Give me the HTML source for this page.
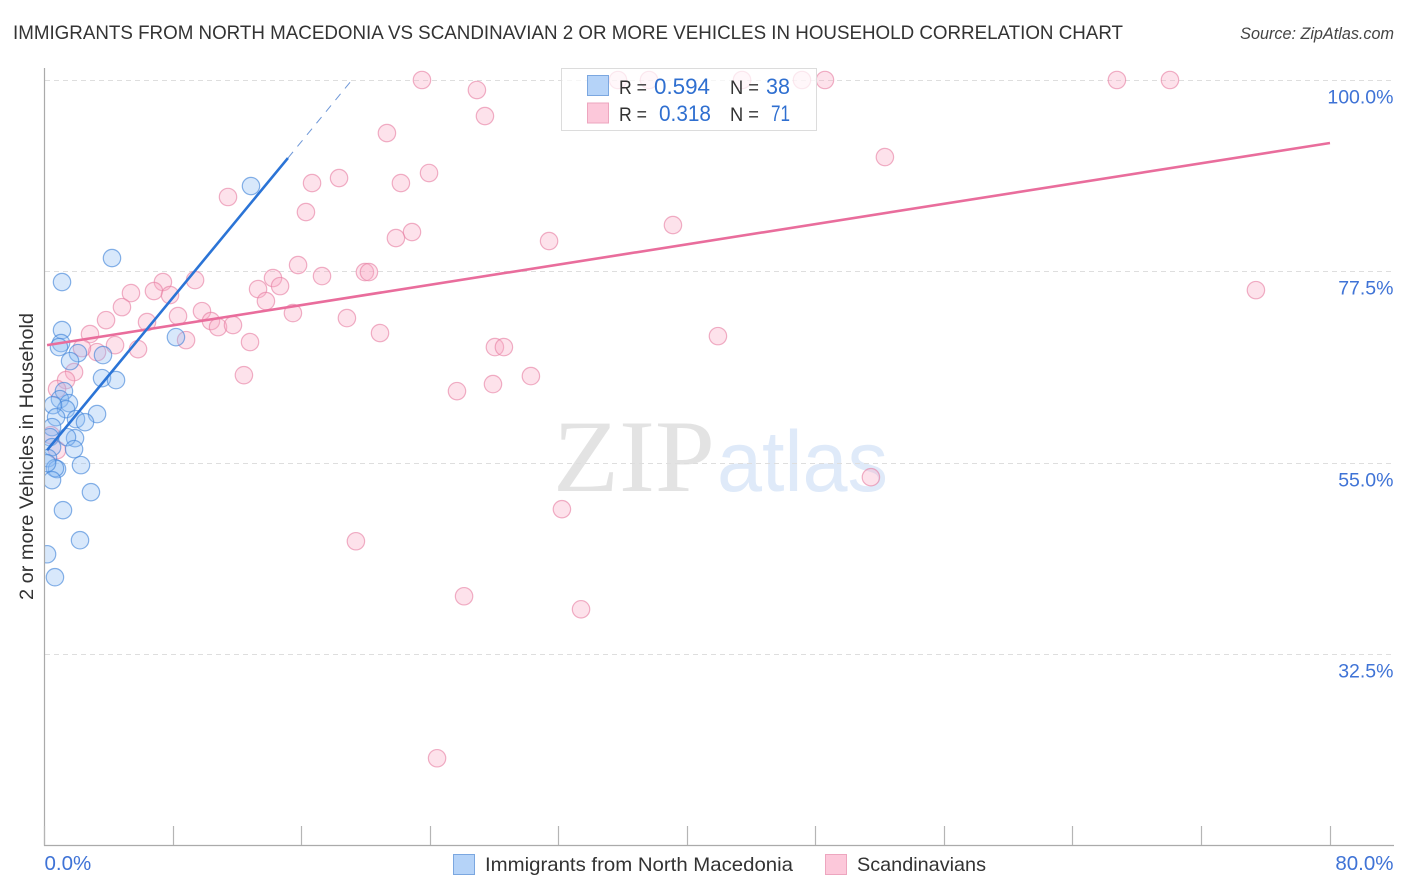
<!DOCTYPE html>
<html lang="en">
<head>
<meta charset="utf-8">
<title>Immigrants from North Macedonia vs Scandinavian correlation chart</title>
<style>
html,body{margin:0;padding:0;background:#fff;}
svg{display:block;font-family:"Liberation Sans",sans-serif;}
</style>
</head>
<body>
<svg id="chart" width="1406" height="892" viewBox="0 0 1406 892" xmlns="http://www.w3.org/2000/svg">
  <defs>
    <clipPath id="plot-clip"><rect x="45" y="60" width="1350" height="785"/></clipPath>
  </defs>
  <text x="13" y="39" font-size="19.5" fill="#333" textLength="1110" lengthAdjust="spacingAndGlyphs">IMMIGRANTS FROM NORTH MACEDONIA VS SCANDINAVIAN 2 OR MORE VEHICLES IN HOUSEHOLD CORRELATION CHART</text>
  <text x="1394" y="39" font-size="16.2" font-style="italic" fill="#444" text-anchor="end">Source: ZipAtlas.com</text>
  <g>
    <text x="553" y="491" font-family="'Liberation Serif',serif" font-size="103" fill="#e3e3e3" textLength="162" lengthAdjust="spacingAndGlyphs">ZIP</text>
    <text x="717" y="491" font-size="86" fill="#dfeaf9" textLength="171" lengthAdjust="spacingAndGlyphs">atlas</text>
  </g>
  <g id="grid"></g>
  <g id="marks" clip-path="url(#plot-clip)"></g>
  <g id="axes"></g>
  <text transform="translate(33,456.500) rotate(-90)" font-size="19.5" fill="#333" text-anchor="middle" textLength="287" lengthAdjust="spacingAndGlyphs">2 or more Vehicles in Household</text>

  <g>
    <rect x="561.500" y="68.500" width="255" height="62" fill="#fff" fill-opacity="0.72" stroke="#dcdcdc" stroke-width="1"/>
    <rect x="587.500" y="75.500" width="21" height="20" fill="#b5d3f8" stroke="#7ba7e0"/>
    <rect x="587.500" y="103" width="21" height="20" fill="#fcc8da" stroke="#eda6bf"/>
    <text x="619" y="94" font-size="19.500" fill="#333" textLength="28" lengthAdjust="spacingAndGlyphs">R =</text>
    <text x="654" y="94" font-size="22" fill="#2f6fd0" textLength="56" lengthAdjust="spacingAndGlyphs">0.594</text>
    <text x="730" y="94" font-size="19.500" fill="#333" textLength="29" lengthAdjust="spacingAndGlyphs">N =</text>
    <text x="766" y="94" font-size="22" fill="#2f6fd0" textLength="24" lengthAdjust="spacingAndGlyphs">38</text>
    <text x="619" y="121" font-size="19.500" fill="#333" textLength="28" lengthAdjust="spacingAndGlyphs">R =</text>
    <text x="659" y="121" font-size="22" fill="#2f6fd0" textLength="52" lengthAdjust="spacingAndGlyphs">0.318</text>
    <text x="730" y="121" font-size="19.500" fill="#333" textLength="29" lengthAdjust="spacingAndGlyphs">N =</text>
    <text x="771" y="121" font-size="22" fill="#2f6fd0" textLength="19" lengthAdjust="spacingAndGlyphs">71</text>
  </g>

  <g>
    <rect x="453.500" y="854.500" width="21" height="20" fill="#b5d3f8" stroke="#7ba7e0"/>
    <text x="485" y="871" font-size="19.500" fill="#333" textLength="308" lengthAdjust="spacingAndGlyphs">Immigrants from North Macedonia</text>
    <rect x="825.500" y="854.500" width="21" height="20" fill="#fcc8da" stroke="#eda6bf"/>
    <text x="857" y="871" font-size="19.500" fill="#333" textLength="129" lengthAdjust="spacingAndGlyphs">Scandinavians</text>
  </g>
</svg>
<script>
const xTickValues = [0, 8, 16, 24, 32, 40, 48, 56, 64, 72, 80];
const yTickValues = [100, 77.5, 55, 32.5];
const yTickLabels = ["100.0%", "77.5%", "55.0%", "32.5%"];
const xEndValues = [0, 80];
const xEndLabels = ["0.0%", "80.0%"];

const blueX = [12.85,4.20,1.09,1.09,1.03,0.90,2.08,3.64,1.59,3.58,4.45,8.18,1.21,0.96,1.52,1.34,0.53,0.72,3.27,1.96,2.52,0.47,1.90,1.40,1.84,0.34,0.47,2.27,0.22,0.78,0.65,0.47,2.89,1.15,2.21,0.16,0.65,0.16];
const blueY = [87.53,79.06,76.24,70.59,69.06,68.59,67.88,67.65,66.94,64.94,64.71,69.76,63.41,62.47,62.00,61.29,61.76,60.35,60.71,60.12,59.76,59.18,57.88,58.00,56.59,58.00,56.82,54.71,55.53,54.24,54.35,52.94,51.53,49.41,45.88,44.23,41.53,54.94];

const pinkX = [23.49,35.69,37.62,43.41,47.14,48.57,66.74,70.04,26.91,27.41,21.31,52.30,23.93,18.33,16.65,22.18,11.42,16.27,39.11,22.87,21.87,31.40,15.78,19.94,20.19,17.27,75.39,5.38,7.37,6.81,7.81,4.82,3.83,9.37,6.38,8.31,9.80,10.36,10.80,11.73,2.83,4.39,8.81,12.79,5.82,3.27,2.33,12.41,1.84,1.34,0.78,13.29,14.22,14.66,13.78,15.46,0.78,0.40,18.82,20.88,41.91,28.03,28.59,27.91,30.27,25.67,51.43,32.20,19.38,26.11,33.39,24.43];
const pinkY = [100,100,100,100,100,100,100,100,98.82,95.76,93.76,90.94,89.06,88.47,87.88,87.88,86.24,84.47,82.94,82.12,81.41,81.06,78.24,77.41,77.41,76.94,75.29,74.94,76.24,75.18,74.71,73.29,71.76,76.47,71.53,72.24,72.82,71.65,70.94,71.18,70.12,68.82,69.41,69.18,68.35,68.00,68.47,65.29,65.65,64.71,63.65,75.41,76.71,75.76,74.00,72.59,56.47,58.24,72.00,70.24,69.88,68.59,68.59,64.24,65.18,63.41,53.29,49.53,45.76,39.29,37.76,20.24];

const blueTrendX = [0.16, 15.15];
const blueTrendY = [56.47, 90.82];
const blueDashX = [15.15, 19.13];
const blueDashY = [90.82, 100];
const pinkTrendX = [0.16, 80];
const pinkTrendY = [68.82, 92.59];

function xScale(v){ return 44.5 + v * (1330 - 44.5) / 80; }
function yScale(v){ return 80 + (100 - v) * (654 - 80) / 67.5; }

const NS = 'http://www.w3.org/2000/svg';
function make(tag, attrs, parent, text){
  const el = document.createElementNS(NS, tag);
  for (const k in attrs) el.setAttribute(k, attrs[k]);
  if (text !== undefined) el.textContent = text;
  parent.appendChild(el);
  return el;
}
const gridG = document.getElementById('grid');
const marksG = document.getElementById('marks');
const axesG = document.getElementById('axes');

yTickValues.forEach(function(v, i){
  const y = Math.round(yScale(v)) + 0.5;
  const line = make('line', {x1:45, x2:1393, y1:y, y2:y, stroke:'#dedede', 'stroke-width':1, 'stroke-dasharray':'5 4'}, gridG);
  
  
  const label = make('text', {x:1393.5, y:y + 23, 'font-size':19.5, fill:'#3f73d6', 'text-anchor':'end'}, axesG, yTickLabels[i]);
  
  
});

function drawPoints(xs, ys, fill, stroke, name){
  xs.forEach(function(v, i){
    const c = make('circle', {cx:xScale(v), cy:yScale(ys[i]), r:8.7, fill:fill, 'fill-opacity':0.34, stroke:stroke, 'stroke-opacity':0.62, 'stroke-width':1.2}, marksG);
    
    
  });
}
drawPoints(pinkX, pinkY, '#f9a9c4', '#e77fa3', 'point-scandinavians');
drawPoints(blueX, blueY, '#8ebcf2', '#3f83d8', 'point-macedonia');

const pinkLine = make('line', {x1:xScale(pinkTrendX[0]), y1:yScale(pinkTrendY[0]), x2:xScale(pinkTrendX[1]), y2:yScale(pinkTrendY[1]), stroke:'#e96d9c', 'stroke-width':2.6}, marksG);


const blueLine = make('line', {x1:xScale(blueTrendX[0]), y1:yScale(blueTrendY[0]), x2:xScale(blueTrendX[1]), y2:yScale(blueTrendY[1]), stroke:'#2b74d6', 'stroke-width':2.6}, marksG);


const blueDash = make('line', {x1:xScale(blueDashX[0]), y1:yScale(blueDashY[0]), x2:xScale(blueDashX[1]), y2:yScale(blueDashY[1]), stroke:'#6f98d8', 'stroke-width':1, 'stroke-dasharray':'8 7'}, marksG);



const yAxis = make('line', {x1:44.5, x2:44.5, y1:68, y2:846, stroke:'#aaa', 'stroke-width':1.2}, axesG);


const xAxis = make('line', {x1:44, x2:1394, y1:845.5, y2:845.5, stroke:'#aaa', 'stroke-width':1.2}, axesG);



xTickValues.forEach(function(v){
  const x = Math.floor(xScale(v)) + 0.5;
  const t = make('line', {x1:x, x2:x, y1:826, y2:845, stroke:'#b5b5b5', 'stroke-width':1.2}, axesG);
  
  
});
xEndValues.forEach(function(v, i){
  const isLast = i === xEndValues.length - 1;
  const t = make('text', {x:isLast ? 1393.5 : xScale(v), y:870, 'font-size':20.5, fill:'#3f73d6', 'text-anchor':isLast ? 'end' : 'start'}, axesG, xEndLabels[i]);
  
  
});
</script>
</body>
</html>
